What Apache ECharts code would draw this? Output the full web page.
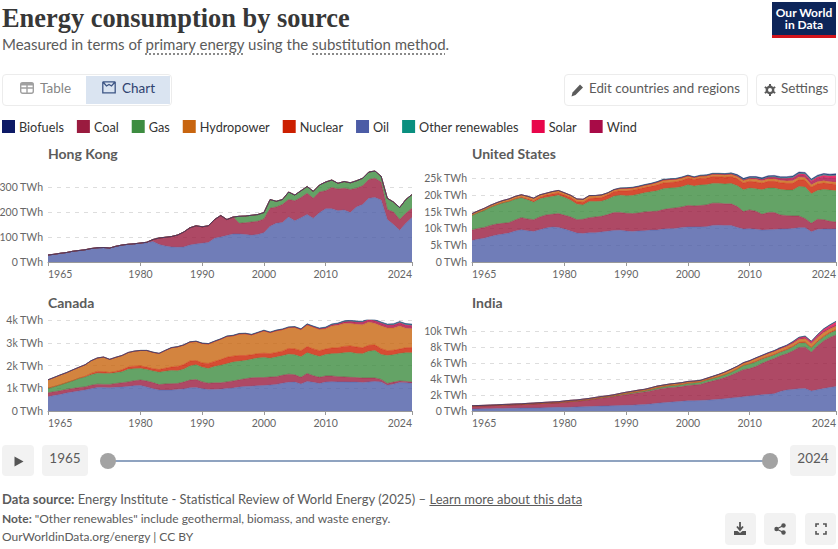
<!DOCTYPE html>
<html>
<head>
<meta charset="utf-8">
<title>Energy consumption by source</title>
<script src="https://cdn.jsdelivr.net/npm/echarts@6/dist/echarts.min.js"></script>
<style>
  html, body { margin: 0; padding: 0; width: 838px; height: 549px; background: #fff; overflow: hidden; font-family: Lato, sans-serif; color: #5b5b5b; }
  #chart { position: absolute; left: 0; top: 0; width: 838px; height: 549px; }
  .t { position: absolute; white-space: nowrap; }
  .box { position: absolute; box-sizing: border-box; border-radius: 4px; }
  .btn { border: 1px solid #ececec; background: #fff; }
  .grey { background: #f2f2f2; }
  .dot { text-decoration: underline dotted #8a8a8a; text-underline-offset: 3px; text-decoration-thickness: 1.5px; }
  svg { position: absolute; }
</style>
</head>
<body>
<div id="chart"></div>

<div class="t" style="left:2px;top:1px;font:bold 26.4px/34px 'Liberation Serif',serif;color:#373737">Energy consumption by source</div>
<div class="t" style="left:2px;top:34px;font-size:15px;line-height:20px">Measured in terms of <span class="dot">primary energy</span> using the <span class="dot">substitution method</span>.</div>

<div class="box" style="left:772px;top:2px;width:64px;height:36px;background:#0d2559;border-bottom:3px solid #d2141c;border-radius:0"></div>
<div class="t" style="left:772px;top:7px;width:64px;text-align:center;font:bold 12px/12px Lato;color:#fff">Our World</div>
<div class="t" style="left:772px;top:19px;width:64px;text-align:center;font:bold 12px/12px Lato;color:#fff">in Data</div>

<div class="box btn" style="left:2px;top:74px;width:170px;height:32px"></div>
<div class="box" style="left:86px;top:76px;width:84px;height:28px;background:#dae4f1;border-radius:0"></div>
<svg style="left:20px;top:82px" width="14" height="12" viewBox="0 0 14 12"><rect x="0.7" y="0.7" width="12.6" height="10.6" rx="2" fill="none" stroke="#a0a0a0" stroke-width="1.4"/><path d="M0.7 6H13.3M7 0.7V11.3" stroke="#a0a0a0" stroke-width="1.4"/><path d="M0.7 0.7H13.3V3.5H0.7Z" fill="#a0a0a0"/></svg>
<div class="t" style="left:40px;top:80px;font-size:13.5px;line-height:17px;color:#858585">Table</div>
<svg style="left:102px;top:81px" width="14" height="13" viewBox="0 0 14 13"><path d="M0.8 0.8V11.8H13.2V0.8M0.8 0.8L4.5 5L7 3.5L9.5 5L13.2 0.8M0.8 0.8H13.2" fill="none" stroke="#3d5585" stroke-width="1.3"/></svg>
<div class="t" style="left:122px;top:80px;font-size:13.5px;line-height:17px;color:#2f4270">Chart</div>

<div class="box btn" style="left:564px;top:74px;width:184px;height:32px"></div>
<svg style="left:571px;top:83px" width="13" height="14" viewBox="0 0 13 14"><path d="M0.5 13.5L1.5 9.5L9 1.5L12 4.5L4.5 12Z" fill="#5b5b5b"/></svg>
<div class="t" style="left:589px;top:79.5px;font-size:13.3px;line-height:17px">Edit countries and regions</div>
<div class="box btn" style="left:756px;top:74px;width:80px;height:32px"></div>
<svg style="left:764px;top:84px" width="12" height="12" viewBox="0 0 12 12"><circle cx="6" cy="6" r="3.2" fill="none" stroke="#5b5b5b" stroke-width="2.4"/><path d="M6 0V12M0.8 3L11.2 9M0.8 9L11.2 3" stroke="#5b5b5b" stroke-width="2" stroke-dasharray="2.2 7.6"/></svg>
<div class="t" style="left:781px;top:79.5px;font-size:13.5px;line-height:17px">Settings</div>

<div class="box grey" style="left:2px;top:445px;width:32px;height:31px"></div>
<svg style="left:14px;top:456px" width="10" height="11" viewBox="0 0 10 11"><path d="M0.5 0.5L9.5 5.5L0.5 10.5Z" fill="#555"/></svg>
<div class="box grey" style="left:42px;top:445px;width:46px;height:31px"></div>
<div class="t" style="left:42px;top:450px;width:46px;text-align:center;font-size:13.5px;line-height:17px">1965</div>
<div class="box" style="left:108px;top:460px;width:662px;height:2px;background:#8fa3c0;border-radius:0"></div>
<div class="box" style="left:100px;top:453px;width:16px;height:16px;border-radius:8px;background:#a3a3a3"></div>
<div class="box" style="left:762px;top:453px;width:16px;height:16px;border-radius:8px;background:#a3a3a3"></div>
<div class="box grey" style="left:790px;top:445px;width:46px;height:31px"></div>
<div class="t" style="left:790px;top:450px;width:46px;text-align:center;font-size:13.5px;line-height:17px">2024</div>

<div class="t" style="left:2px;top:491px;font-size:13px;line-height:17px"><b>Data source:</b> Energy Institute - Statistical Review of World Energy (2025) – <span style="text-decoration:underline">Learn more about this data</span></div>
<div class="t" style="left:2px;top:511px;font-size:12px;line-height:16px"><b>Note:</b> "Other renewables" include geothermal, biomass, and waste energy.</div>
<div class="t" style="left:2px;top:529px;font-size:12px;line-height:16px">OurWorldinData.org/energy | CC BY</div>

<div class="box grey" style="left:725px;top:513px;width:31px;height:32px"></div>
<svg style="left:733px;top:522px" width="14" height="14" viewBox="0 0 14 14"><path d="M7 0V7M4 4.5L7 8L10 4.5" fill="none" stroke="#555" stroke-width="1.8"/><path d="M1 9H4.5L7 11L9.5 9H13V13H1Z" fill="#555"/></svg>
<div class="box grey" style="left:764px;top:513px;width:32px;height:32px"></div>
<svg style="left:774px;top:523px" width="12" height="12" viewBox="0 0 12 12"><circle cx="2.5" cy="6" r="2.2" fill="#555"/><circle cx="9.5" cy="2.5" r="2.2" fill="#555"/><circle cx="9.5" cy="9.5" r="2.2" fill="#555"/><path d="M2.5 6L9.5 2.5M2.5 6L9.5 9.5" stroke="#555" stroke-width="1.3"/></svg>
<div class="box grey" style="left:805px;top:513px;width:31px;height:32px"></div>
<svg style="left:815px;top:523px" width="12" height="12" viewBox="0 0 12 12"><path d="M1 4V1H4M8 1H11V4M11 8V11H8M4 11H1V8" fill="none" stroke="#555" stroke-width="1.6"/></svg>

<script>
// Energy use per source, TWh, one value per year from 1965 to 2024.
const years = [];
for (let y = 1965; y <= 2024; y++) years.push(String(y));
const yearTicks = ['1965', '1980', '1990', '2000', '2010', '2024'];
const sourceNames = ['Oil', 'Coal', 'Gas', 'Nuclear', 'Hydropower', 'Wind', 'Solar', 'Other renewables', 'Biofuels'];
const legendOrder = ['Biofuels', 'Coal', 'Gas', 'Hydropower', 'Nuclear', 'Oil', 'Other renewables', 'Solar', 'Wind'];
const sourceColors = ['#4c5ca6', '#9a1b3f', '#3d8c40', '#cc1f00', '#c8650f', '#a80b47', '#e8064b', '#0a8f7f', '#0d1a66'];

const nil = [0,0,0,0,0,0,0,0,0,0, 0,0,0,0,0,0,0,0,0,0, 0,0,0,0,0,0,0,0,0,0, 0,0,0,0,0,0,0,0,0,0, 0,0,0,0,0,0,0,0,0,0, 0,0,0,0,0,0,0,0,0,0];

const hkOil = [28,31,35,38,43,46,49,54,57,58, 56,63,68,71,73,75,77,82,70,64, 60,59,60,68,72,75,78,95,100,106, 112,112,110,107,110,117,143,155,158,180, 165,177,190,175,197,213,213,205,208,198, 220,230,255,258,248,170,150,127,155,178];
const hkCoal = [0,0,0,0,0,0,0,0,0,0, 0,0,0,0,0,1,2,8,26,35, 42,49,60,69,73,66,67,75,86,64, 68,43,47,53,53,55,72,65,72,70, 80,81,85,80,83,72,85,87,87,92, 75,75,75,77,72,40,50,43,40,37];
const hkGas = [0,0,0,0,0,0,0,0,0,0, 0,0,0,0,0,0,0,0,0,0, 0,0,0,0,0,0,0,0,0,0, 0,28,27,27,27,26,35,23,20,30, 23,27,27,28,28,35,30,23,27,27, 30,30,30,29,23,45,40,48,55,55];

const usOil = [6400,6800,7100,7600,8000,8300,8600,9200,9600,9300, 9100,9600,10100,10400,10300,9800,9200,8600,8500,8700, 8700,8950,9150,9400,9450,9200,9100,9250,9300,9500, 9500,9800,9900,10000,10300,10400,10450,10450,10500,10900, 10950,10850,10850,10300,9800,9900,9750,9500,9600,9650, 9800,9850,9950,10200,10200,9000,9700,9800,9800,9850];
const usCoal = [3100,3200,3200,3300,3300,3200,3100,3300,3600,3500, 3500,3800,3900,3800,4100,4100,4200,4000,4200,4500, 4700,4650,4950,5300,5250,5300,5300,5350,5600,5500, 5600,5800,6000,6100,6100,6400,6250,6350,6500,6600, 6550,6450,6450,6200,5200,5600,5350,4700,5100,5050, 4200,3950,3750,3500,2700,2500,3000,2800,2300,2050];
const usGas = [4400,4700,5100,5400,5700,6100,6300,6200,5900,5700, 5200,5400,5200,5300,5500,5300,5000,4600,4300,4800, 4600,4500,4600,4900,5200,5200,5400,5600,5700,5900, 6100,6200,6100,6000,6000,6200,5900,6100,6000,5900, 5900,5900,6100,6200,6500,6500,6700,7300,7300,7300, 7600,7600,7700,8800,9400,8800,8600,9000,9300,9300];
const usNuclear = [10,15,20,30,40,60,100,140,220,290, 450,490,640,720,650,680,760,760,800,900, 1030,1080,1210,1320,1300,1480,1540,1560,1540,1630, 1710,1730,1650,1730,1860,1930,1960,2000,1960,2020, 2000,2020,2070,2070,2030,2040,2000,1950,2000,2020, 2010,2030,2030,2030,2040,1940,1930,1880,1880,1900];
const usHydro = [500,520,570,570,620,640,680,700,700,770, 760,700,620,730,740,710,680,800,850,830, 740,770,650,580,700,750,720,640,720,680, 800,870,900,820,810,710,570,680,700,690, 700,730,640,670,710,660,820,700,700,690, 650,700,780,750,720,740,660,680,630,640];
const usWind = [0,0,0,0,0,0,0,0,0,0, 0,0,0,0,0,0,0,0,0,0, 0,0,0,0,0,5,5,5,5,5, 5,5,5,5,8,10,20,28,30,37, 47,70,90,145,195,250,320,370,440,480, 510,600,680,730,790,880,990,1130,1100,1190];
const usSolar = [0,0,0,0,0,0,0,0,0,0, 0,0,0,0,0,0,0,0,0,0, 0,0,0,0,0,0,0,0,0,0, 0,0,0,0,0,0,0,0,0,0, 0,0,1,2,2,3,5,15,30,60, 85,120,200,240,280,340,440,540,620,800];
const usOther = [1,1,1,1,1,2,2,3,4,4, 5,6,8,10,12,15,20,20,25,30, 30,40,50,60,130,150,155,160,165,170, 175,175,180,180,180,180,170,175,175,175, 175,175,180,185,185,190,195,195,195,195, 190,190,190,190,185,180,175,175,170,170];
const usBiofuels = [0,0,0,0,0,0,0,0,0,0, 0,0,0,0,0,0,2,5,8,10, 12,15,18,18,18,20,22,25,28,30, 32,25,32,35,36,40,44,55,75,90, 100,130,170,240,270,300,320,310,310,330, 340,350,350,350,340,290,330,340,350,360];

const caOil = [630,680,730,790,840,880,920,980,1030,1030, 1020,1040,1050,1080,1110,1120,1060,980,920,920, 920,950,970,1020,1030,980,940,950,960,990, 1010,1050,1080,1090,1110,1120,1140,1170,1220,1260, 1270,1190,1300,1260,1210,1270,1290,1280,1280,1270, 1270,1250,1280,1300,1280,1130,1180,1250,1240,1220];
const caCoal = [170,170,160,160,150,150,140,150,150,140, 150,170,190,200,220,240,260,270,240,270, 280,260,300,340,350,300,280,290,280,290, 310,320,340,370,360,350,350,340,350,360, 320,290,350,290,270,270,250,230,220,210, 200,200,170,150,110,80,90,70,60,50];
const caGas = [200,220,260,290,340,400,430,460,480,480, 480,470,480,550,530,510,500,510,540,560, 580,560,570,620,650,640,650,720,770,800, 830,820,800,820,860,880,830,860,860,880, 880,900,910,920,920,940,980,1020,1060,1100, 1060,1070,1180,1210,1090,1230,1200,1210,1260,1290];
const caNuclear = [5,5,5,5,5,10,30,60,80,80, 40,60,90,100,110,110,110,100,120,130, 150,190,200,220,190,190,220,220,250,280, 260,250,220,190,190,190,200,200,200,250, 260,270,270,260,250,240,250,250,280,280, 280,260,260,240,260,210,200,190,220,230];
const caHydro = [365,400,430,440,470,480,510,560,590,640, 580,620,630,640,660,680,730,720,710,780, 850,860,860,830,840,860,860,880,900,920, 900,950,960,880,920,990,930,960,950,920, 950,930,960,960,940,900,970,990,1010,990, 1000,1010,1020,950,1000,1000,980,1020,860,820];
const caWind = [0,0,0,0,0,0,0,0,0,0, 0,0,0,0,0,0,0,0,0,0, 0,0,0,0,0,0,0,0,0,0, 0,0,0,0,0,1,1,2,3,4, 5,8,10,12,20,30,40,50,60,80, 90,100,100,105,110,110,115,120,120,120];
const caSolar = [0,0,0,0,0,0,0,0,0,0, 0,0,0,0,0,0,0,0,0,0, 0,0,0,0,0,0,0,0,0,0, 0,0,0,0,0,0,0,0,0,0, 0,0,0,0,0,1,1,2,3,4, 6,8,9,9,10,10,12,14,16,20];
const caOther = [5,5,5,5,5,5,5,5,5,5, 5,5,5,5,5,5,5,8,8,8, 10,10,10,12,12,15,15,15,15,18, 18,18,18,20,20,20,20,22,22,22, 22,22,25,25,25,25,28,28,30,30, 30,30,30,30,32,32,35,35,38,40];
const caBiofuels = [0,0,0,0,0,0,0,0,0,0, 0,0,0,0,0,0,0,0,0,0, 0,0,0,0,0,0,0,0,0,0, 0,0,0,0,0,0,0,1,1,1, 2,3,5,8,10,15,18,20,20,22, 22,22,25,25,25,22,25,28,30,30];

const inOil = [250,260,270,290,300,320,340,350,360,370, 380,390,420,440,460,450,480,510,530,550, 580,610,640,670,690,710,730,780,800,880, 960,1040,1100,1160,1220,1270,1280,1320,1350,1400, 1460,1540,1630,1700,1790,1870,1950,2030,2080,2160, 2450,2620,2700,2780,2800,2500,2660,2800,2950,3050];
const inCoal = [350,360,370,380,390,400,400,430,440,470, 500,530,540,550,560,650,690,710,770,830, 910,990,1060,1130,1250,1340,1420,1490,1570,1630, 1740,1780,1820,1810,1830,1930,1970,2000,2200,2340, 2480,2640,2830,3120,3380,3430,3600,3920,4190,4400, 4450,4540,4800,5150,5180,4850,5450,5950,6250,6450];
const inGas = [0,0,0,1,1,2,2,3,3,5, 5,5,8,10,12,15,20,25,30,40, 45,55,60,70,85,105,120,140,150,170, 190,210,220,230,240,250,250,270,290,310, 320,340,370,400,510,580,580,530,460,440, 440,460,500,550,540,520,530,490,520,560];
const inNuclear = [0,0,0,0,1,4,4,4,5,5, 6,8,7,7,6,7,7,6,8,9, 13,13,13,14,12,15,15,16,15,14, 20,20,25,30,33,40,45,50,50,45, 45,45,45,40,45,55,85,85,90,90, 95,100,100,100,110,105,110,115,120,130];
const inHydro = [60,65,70,75,80,90,95,95,95,105, 105,115,115,125,130,135,140,135,145,145, 150,150,140,150,165,180,190,185,180,210, 200,190,200,220,215,200,195,180,180,220, 260,290,320,300,270,300,350,300,350,340, 330,330,350,360,410,420,410,450,400,390];
const inWind = [0,0,0,0,0,0,0,0,0,0, 0,0,0,0,0,0,0,0,0,0, 0,0,0,0,0,0,0,0,0,1, 1,2,2,3,4,5,5,5,10,12, 15,20,30,35,40,50,60,70,80,90, 100,110,130,150,160,150,170,190,200,220];
const inSolar = [0,0,0,0,0,0,0,0,0,0, 0,0,0,0,0,0,0,0,0,0, 0,0,0,0,0,0,0,0,0,0, 0,0,0,0,0,0,0,0,0,0, 0,0,0,0,0,1,1,3,8,12, 20,30,60,90,120,135,170,220,260,330];
const inOther = [0,0,0,0,0,0,0,0,0,0, 0,0,0,0,0,0,0,0,0,0, 0,0,0,0,0,1,1,1,2,2, 3,3,4,4,5,5,5,6,6,8, 8,10,12,14,16,18,20,25,28,30, 35,35,40,40,45,45,50,50,55,60];
const inBiofuels = [0,0,0,0,0,0,0,0,0,0, 0,0,0,0,0,0,0,0,0,0, 0,0,0,0,0,0,0,0,0,0, 0,0,0,0,0,0,0,0,0,0, 0,0,0,0,0,1,1,1,1,2, 3,3,4,4,5,5,8,15,25,30];

const panels = [
  { name: 'Hong Kong', left: 48, top: 167, height: 95, max: 380, ticks: [0, 100, 200, 300],
    unit: v => v + ' TWh', rows: [hkOil, hkCoal, hkGas, nil, nil, nil, nil, nil, nil] },
  { name: 'United States', left: 472, top: 171.28, height: 90.72, max: 27000, ticks: [0, 5000, 10000, 15000, 20000, 25000],
    unit: v => v ? v / 1000 + 'k TWh' : '0 TWh', rows: [usOil, usCoal, usGas, usNuclear, usHydro, usWind, usSolar, usOther, usBiofuels] },
  { name: 'Canada', left: 48, top: 320, height: 91, max: 4000, ticks: [0, 1000, 2000, 3000, 4000],
    unit: v => v ? v / 1000 + 'k TWh' : '0 TWh', rows: [caOil, caCoal, caGas, caNuclear, caHydro, caWind, caSolar, caOther, caBiofuels] },
  { name: 'India', left: 472, top: 319, height: 92, max: 11500, ticks: [0, 2000, 4000, 6000, 8000, 10000],
    unit: v => v ? v / 1000 + 'k TWh' : '0 TWh', rows: [inOil, inCoal, inGas, inNuclear, inHydro, inWind, inSolar, inOther, inBiofuels] }
];

const axisGrey = '#666';
const isYearTick = (i, label) => yearTicks.includes(label);
const chart = echarts.init(document.getElementById('chart'), null, { renderer: 'svg' });
chart.setOption({
  animation: false,
  backgroundColor: 'transparent',
  color: sourceColors,
  title: panels.map(p => ({
    text: p.name, left: p.left, top: p.name === 'Hong Kong' || p.name === 'United States' ? 146 : 295, padding: 0,
    textStyle: { fontFamily: 'Lato', fontSize: 14, fontWeight: 'bold', color: '#5b5b5b' }
  })),
  legend: {
    data: legendOrder, left: 2, top: 120, padding: 0, icon: 'rect',
    itemWidth: 13, itemHeight: 13, itemGap: 13,
    itemStyle: { opacity: 1 }, lineStyle: { opacity: 0 }, selectedMode: false,
    textStyle: { fontFamily: 'Lato', fontSize: 12.7, color: '#333', padding: [0, 0, 0, -1] }
  },
  grid: panels.map(p => ({ left: p.left, top: p.top, width: 364, height: p.height, outerBoundsMode: 'none' })),
  xAxis: panels.map((p, i) => ({
    type: 'category', gridIndex: i, data: years, boundaryGap: false, splitLine: { show: false },
    axisLine: { show: true, lineStyle: { color: '#999', width: 1 } },
    axisTick: { show: true, length: 4, interval: isYearTick, lineStyle: { color: '#999' } },
    axisLabel: {
      interval: isYearTick, color: axisGrey, fontFamily: 'Lato', fontSize: 10.5,
      margin: 6, alignMinLabel: 'left', alignMaxLabel: 'right'
    }
  })),
  yAxis: panels.map((p, i) => ({
    type: 'value', gridIndex: i, min: 0, max: p.max,
    axisLine: { show: false }, axisTick: { show: false, customValues: p.ticks },
    splitLine: { show: true, lineStyle: { color: '#dddddd', type: [4, 5], width: 1 } },
    axisLabel: { customValues: p.ticks, formatter: p.unit, color: axisGrey, fontFamily: 'Lato', fontSize: 10.5, margin: 5, padding: [2, 0, 0, 0] }
  })),
  series: panels.flatMap((p, i) => sourceNames.map((name, k) => ({
    name, type: 'line', xAxisIndex: i, yAxisIndex: i, stack: p.name,
    symbol: 'none', smooth: false, silent: true,
    lineStyle: { width: 0.5, color: sourceColors[k], opacity: 0.8 },
    itemStyle: { color: sourceColors[k] },
    areaStyle: { color: sourceColors[k], opacity: 0.8 },
    data: p.rows[k]
  })))
});
</script>
</body>
</html>
